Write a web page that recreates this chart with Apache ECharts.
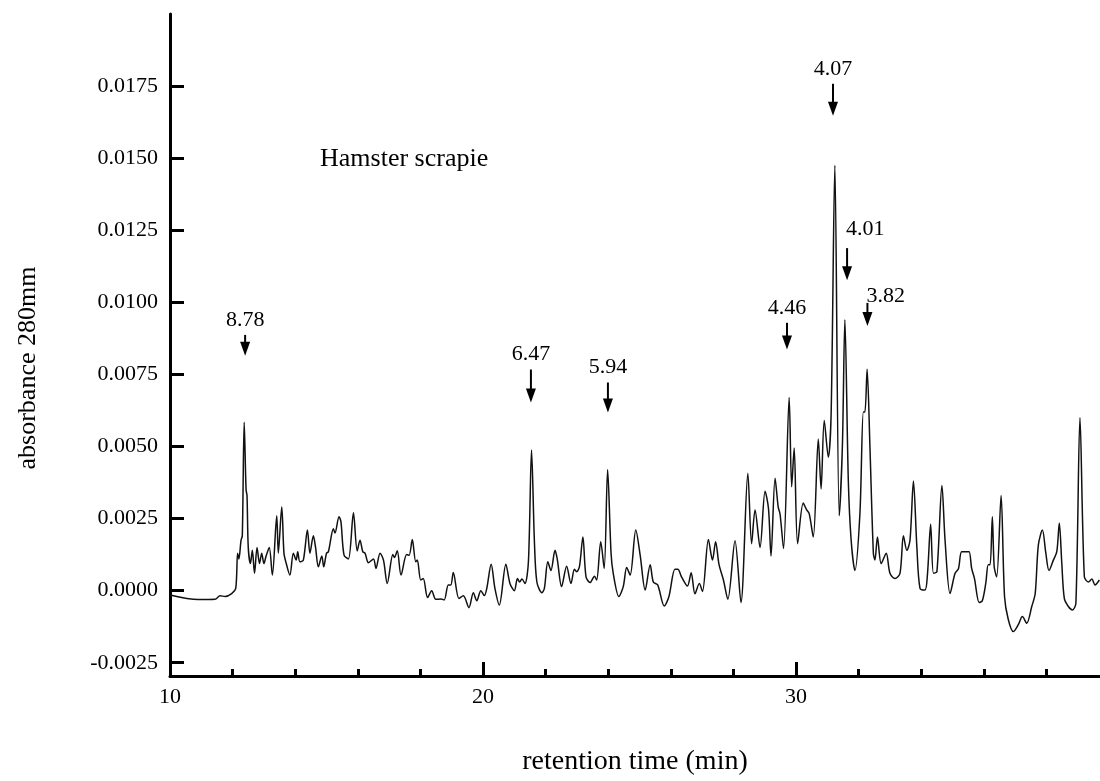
<!DOCTYPE html>
<html>
<head>
<meta charset="utf-8">
<script src="https://cdn.jsdelivr.net/npm/echarts@6/dist/echarts.min.js"></script>
<style>
html,body{margin:0;padding:0;background:#fff;}
#chart{width:1100px;height:781px;}
</style>
</head>
<body>
<div id="chart"></div>
<script>
// retention time (min)
const times = [
10.0,10.9,11.44,11.6,11.76,11.97,12.1,12.16,12.2,12.27,12.31,12.37,12.43,12.46,12.5,12.57,12.63,12.7,12.78,12.86,
12.93,13.0,13.07,13.17,13.27,13.41,13.46,13.57,13.64,13.7,13.83,13.94,14.03,14.08,14.15,14.26,14.39,14.47,14.58,14.65,
14.74,14.85,14.91,15.0,15.06,15.22,15.27,15.4,15.46,15.56,15.7,15.86,15.98,16.07,16.16,16.23,16.34,16.5,16.58,16.71,
16.82,16.94,17.12,17.17,17.26,17.38,17.56,17.64,17.74,17.85,17.9,18.01,18.09,18.23,18.36,18.49,18.66,18.76,18.89,18.97,
19.05,19.23,19.37,19.55,19.69,19.8,19.93,20.04,20.12,20.26,20.38,20.52,20.73,20.86,21.0,21.1,21.17,21.24,21.34,21.45,
21.55,21.64,21.72,21.88,21.96,22.07,22.17,22.3,22.37,22.51,22.67,22.81,22.92,22.99,23.08,23.19,23.29,23.42,23.56,23.63,
23.76,23.87,23.98,24.09,24.16,24.34,24.48,24.59,24.7,24.88,25.02,25.18,25.34,25.44,25.58,25.79,25.94,26.13,26.22,26.35,
26.53,26.65,26.77,26.91,27.01,27.2,27.33,27.43,27.54,27.68,27.82,28.05,28.24,28.46,28.58,28.69,28.85,29.01,29.12,29.2,
29.33,29.43,29.49,29.6,29.78,29.86,29.94,30.05,30.23,30.34,30.42,30.55,30.71,30.8,30.9,31.03,31.12,31.24,31.38,31.48,
31.56,31.67,31.76,31.88,32.04,32.15,32.2,32.27,32.36,32.47,32.52,32.6,32.72,32.88,33.0,33.16,33.32,33.43,33.54,33.64,
33.75,33.86,33.96,34.12,34.2,34.3,34.39,34.5,34.66,34.76,34.92,35.08,35.19,35.29,35.45,35.53,35.61,35.7,35.85,35.95,
36.06,36.14,36.2,36.27,36.33,36.41,36.55,36.66,36.78,36.94,37.1,37.23,37.37,37.53,37.64,37.74,37.87,37.98,38.08,38.22,
38.33,38.41,38.49,38.57,38.7,38.83,38.94,39.07,39.21,39.34,39.45,39.55,39.69
];
// absorbance at 280 nm
const absorbance = [
-0.00015,-0.00031,-0.0003,-0.00018,-0.0002,-0.0001,0.00008,0.0013,0.0011,0.00175,0.0019,0.00584,0.0035,0.0033,0.0015,0.00094,0.0014,0.0006,0.0015,0.00094,
0.0013,0.00094,0.0012,0.0015,0.00054,0.0026,0.0013,0.0029,0.0013,0.001,0.00054,0.0013,0.00106,0.00135,0.001,0.00106,0.0021,0.0013,0.0019,0.0015,
0.00083,0.0012,0.00083,0.0013,0.00135,0.00215,0.002,0.00256,0.0024,0.00123,0.0011,0.0027,0.00138,0.00175,0.00135,0.0013,0.00097,0.0011,0.00077,0.0013,
0.00106,0.00025,0.00125,0.00115,0.00138,0.00054,0.00125,0.00123,0.00177,0.001,0.00106,0.00037,0.00042,-0.00024,0.0,-0.0003,-0.00029,-0.00032,0.0002,0.0002,
0.00063,-0.00027,-0.00018,-0.00059,-0.00007,-0.00035,0.0,-0.00017,0.00008,0.00092,0.00008,-0.0005,0.00092,0.00025,0.0,0.00042,0.0003,0.0004,0.00025,0.001,
0.00488,0.00175,0.0003,-0.00007,0.00008,0.001,0.0007,0.0014,0.0011,0.00014,0.00085,0.00025,0.00074,0.00066,0.00083,0.00186,0.00048,0.00028,0.0005,0.00037,
0.0017,0.00077,0.0042,0.0013,0.0006,-0.0002,0.00014,0.0008,0.00054,0.0021,0.00123,0.00002,0.0009,0.0003,0.0002,-0.00053,-0.0002,0.00074,0.00074,0.00046,
0.00016,0.00062,-0.00011,0.00025,-0.00003,0.00177,0.00106,0.0017,0.0009,0.00037,-0.0003,0.00173,-0.00041,0.00407,0.00163,0.0028,0.0015,0.00345,0.00284,0.0012,
0.0039,0.0029,0.00265,0.00146,0.0067,0.0036,0.00495,0.00163,0.00304,0.0028,0.00267,0.00186,0.00526,0.00353,0.0059,0.00463,0.0061,0.01475,0.0026,0.005,
0.0094,0.0038,0.00175,0.0007,0.00267,0.0062,0.0062,0.00768,0.005,0.0013,0.00106,0.00186,0.00094,0.0013,0.0006,0.00042,0.0006,0.0019,0.0014,0.00175,
0.0038,0.0015,0.00008,0.00002,0.0006,0.0023,0.0006,0.00066,0.00365,0.00175,-0.0001,0.0006,0.00077,0.00135,0.00135,0.00135,0.00077,0.00042,-0.00041,-0.00035,
0.00025,0.0009,0.0009,0.00256,0.00083,0.00048,0.0033,-0.0002,-0.001,-0.00142,-0.00118,-0.0009,-0.00113,-0.00055,-0.0001,0.00158,0.0021,0.0013,0.0007,0.00106,
0.00135,0.00235,0.00094,-0.00027,-0.00055,-0.00067,-0.00044,0.006,0.00048,0.0003,0.0004,0.0002,0.00037
];
// peak annotations (arrows)
const peakLabels = ['8.78','6.47','5.94','4.46','4.07','4.01','3.82'];
const peakTimes = [12.4, 21.53, 23.99, 29.71, 31.18, 31.63, 32.28];
const arrowTop = [0.00887, 0.00767, 0.00722, 0.00929, 0.01758, 0.01188, 0.00998];
const arrowTip = [0.00815, 0.00653, 0.00618, 0.00836, 0.01647, 0.01077, 0.00918];
const yTickValues = [-0.0025, 0, 0.0025, 0.005, 0.0075, 0.01, 0.0125, 0.015, 0.0175];
const xTickLabels = [10, 20, 30];

const FONT = '"Liberation Serif", "Times New Roman", serif';
const chart = echarts.init(document.getElementById('chart'), null, {renderer: 'canvas'});

const lineData = times.map((t, i) => [t, absorbance[i]]);
const annData = peakLabels.map((l, i) => [peakTimes[i], arrowTop[i], arrowTip[i], l]);

chart.setOption({
  animation: false,
  backgroundColor: '#fff',
  grid: {left: 170, right: 0, top: 14, bottom: 101, containLabel: false},
  xAxis: {
    type: 'value', min: 10, max: 39.71, interval: 10,
    name: 'retention time (min)', nameLocation: 'middle', nameGap: 72,
    nameTextStyle: {fontFamily: FONT, fontSize: 28, color: '#000'},
    axisLine: {onZero: false, lineStyle: {color: '#000', width: 3}},
    axisTick: {inside: true, length: 14, lineStyle: {color: '#000', width: 3}, customValues: xTickLabels},
    minorTick: {show: true, splitNumber: 5, length: 7, lineStyle: {color: '#000', width: 3}},
    axisLabel: {customValues: xTickLabels, fontFamily: FONT, fontSize: 22, color: '#000', margin: 10},
    splitLine: {show: false}, minorSplitLine: {show: false}
  },
  yAxis: {
    type: 'value', min: -0.00296, max: 0.0200,
    axisLine: {show: true, onZero: false, lineStyle: {color: '#000', width: 3}},
    axisTick: {show: true, inside: true, length: 14, lineStyle: {color: '#000', width: 3}, customValues: yTickValues},
    axisLabel: {customValues: yTickValues, fontFamily: FONT, fontSize: 22, color: '#000', margin: 12,
      formatter: v => v.toFixed(4)},
    splitLine: {show: false}
  },
  graphic: [{
    type: 'text', left: 320, top: 146,
    style: {text: 'Hamster scrapie', font: '26px ' + FONT, fill: '#000'}
  }, {
    type: 'text', x: 28, y: 368, rotation: Math.PI / 2,
    style: {text: 'absorbance 280mm', font: '26px ' + FONT, fill: '#000', align: 'center', verticalAlign: 'middle'}
  }],
  series: [{
    type: 'line', data: lineData, showSymbol: false, smooth: 0.3,
    lineStyle: {color: '#111', width: 1.5}, z: 3
  }, {
    type: 'custom', data: annData, z: 5,
    renderItem: function (params, api) {
      const i = params.dataIndex;
      const p1 = api.coord([api.value(0), api.value(1)]);
      const p2 = api.coord([api.value(0), api.value(2)]);
      const head = 14, hw = 5;
      const side = i >= 5;
      const dy = i === 6 ? 4 : (i === 5 ? -8 : -4);
      return {type: 'group', children: [
        {type: 'line', shape: {x1: p1[0], y1: p1[1], x2: p2[0], y2: p2[1] - head + 2},
          style: {stroke: '#000', lineWidth: 2}},
        {type: 'polygon', shape: {points: [[p2[0] - hw, p2[1] - head], [p2[0] + hw, p2[1] - head], [p2[0], p2[1]]]},
          style: {fill: '#000'}},
        {type: 'text', x: p1[0] + (side ? -1 : 0), y: p1[1] + dy,
          style: {text: api.value(3), font: '22px ' + FONT, fill: '#000',
            align: side ? 'left' : 'center', verticalAlign: 'bottom'}}
      ]};
    }
  }]
});
</script>
</body>
</html>
